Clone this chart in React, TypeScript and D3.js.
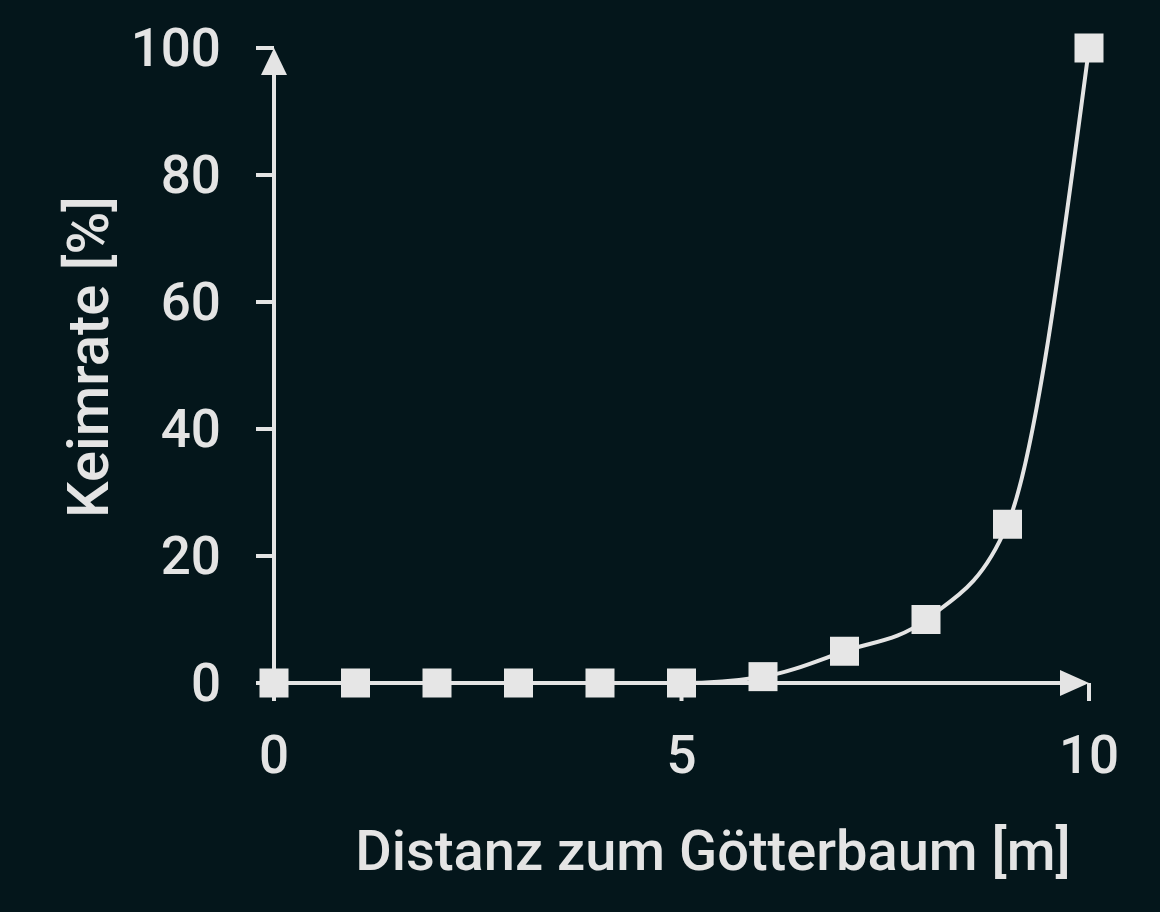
import { useMemo } from "react";
import * as d3 from "d3";

/* ------------------------------------------------------------------ */
/*  Data                                                              */
/* ------------------------------------------------------------------ */

const distances = [0, 1, 2, 3, 4, 5, 6, 7, 8, 9, 10];
const germRates = [0, 0, 0, 0, 0, 0, 1, 5, 10, 25, 100];
const xTicks = [0, 5, 10];
const yTicks = [0, 20, 40, 60, 80, 100];

const xTitle = "Distanz zum Götterbaum [m]";
const yTitle = "Keimrate [%]";

/* ------------------------------------------------------------------ */
/*  Component                                                         */
/* ------------------------------------------------------------------ */

const W = 1160;
const H = 912;
const BG = "#04161b";
const FG = "#e4e4e4";
const FONT = "Roboto, 'Noto Sans', sans-serif";

export default function App() {
  const x = useMemo(() => d3.scaleLinear().domain([0, 10]).range([274, 1089]), []);
  const y = useMemo(() => d3.scaleLinear().domain([0, 100]).range([683, 48]), []);

  const points = distances.map((d, i) => [d, germRates[i]] as [number, number]);

  const linePath = d3
    .line<[number, number]>()
    .x((d) => x(d[0]))
    .y((d) => y(d[1]))
    .curve(d3.curveMonotoneX)(points) ?? "";

  const tickLen = 18;
  const marker = 29;

  const x0 = x(0);
  const y0 = y(0);
  const xEnd = x(10);
  const yEnd = y(100);

  return (
    <svg
      width={W}
      height={H}
      viewBox={`0 0 ${W} ${H}`}
      style={{ position: "absolute", left: 0, top: 0, display: "block" }}
      fontFamily={FONT}
      fontWeight={500}
    >
      <rect width={W} height={H} fill={BG} />

      {/* Axes */}
      <g stroke={FG} strokeWidth={4} fill="none">
        <line x1={x0 - tickLen} y1={y0} x2={xEnd - 20} y2={y0} />
        <line x1={x0} y1={y0 + tickLen} x2={x0} y2={yEnd + 20} />
        {yTicks.map((t) => (
          <line key={`yt${t}`} x1={x0 - tickLen} y1={y(t)} x2={x0} y2={y(t)} />
        ))}
        {xTicks.map((t) => (
          <line key={`xt${t}`} x1={x(t)} y1={y0} x2={x(t)} y2={y0 + tickLen} />
        ))}
      </g>

      {/* Arrow heads */}
      <path
        d={`M${x0},${yEnd} L${x0 - 13},${yEnd + 27} L${x0 + 13},${yEnd + 27} Z`}
        fill={FG}
      />
      <path
        d={`M${xEnd},${y0} L${xEnd - 29},${y0 - 13} L${xEnd - 29},${y0 + 13} Z`}
        fill={FG}
      />

      {/* Tick labels */}
      <g fill={FG} fontSize={53}>
        {yTicks.map((t) => (
          <text key={`yl${t}`} x={221} y={y(t)} textAnchor="end" dominantBaseline="central">
            {t}
          </text>
        ))}
        {xTicks.map((t) => (
          <text key={`xl${t}`} x={x(t)} y={773} textAnchor="middle">
            {t}
          </text>
        ))}
      </g>

      {/* Curve */}
      <path d={linePath} fill="none" stroke={FG} strokeWidth={4} />

      {/* Markers */}
      {points.map(([d, v]) => (
        <rect
          key={d}
          x={x(d) - marker / 2}
          y={y(v) - marker / 2}
          width={marker}
          height={marker}
          fill="#e6e6e6"
        />
      ))}

      {/* Axis titles */}
      <text x={713} y={870} textAnchor="middle" fill={FG} fontSize={56}>
        {xTitle}
      </text>
      <text
        transform={`translate(108,357) rotate(-90)`}
        textAnchor="middle"
        fill={FG}
        fontSize={58}
      >
        {yTitle}
      </text>
    </svg>
  );
}
